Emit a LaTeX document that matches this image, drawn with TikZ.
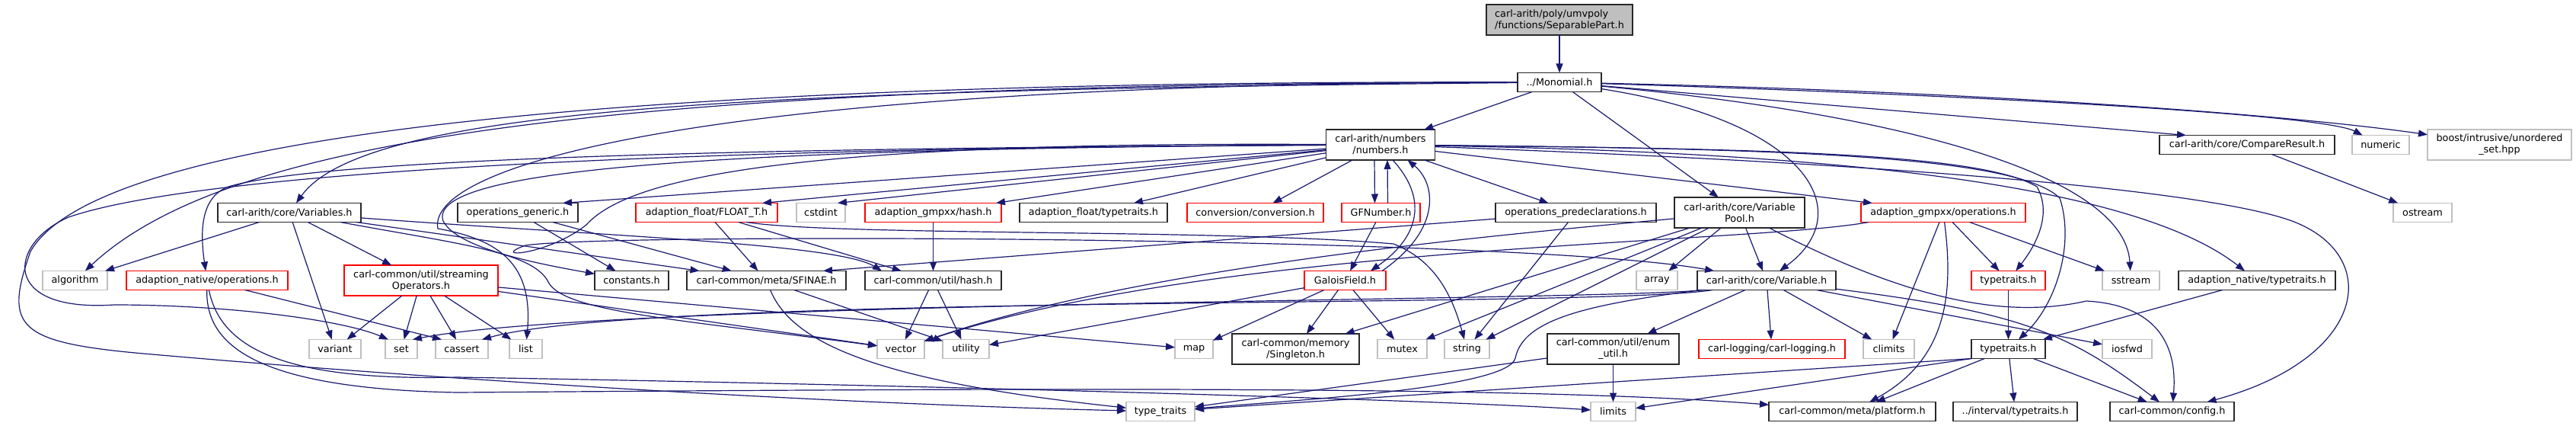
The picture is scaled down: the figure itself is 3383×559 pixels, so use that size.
\documentclass[tikz,border=0pt]{standalone}
\usepackage{fontspec}
\setmainfont{DejaVu Sans}
\usepackage{tikz}
\usepackage{xcolor}
\usetikzlibrary{arrows.meta,positioning}
\definecolor{edgeblue}{RGB}{25,25,112}
\definecolor{softgray}{RGB}{191,191,191}
\definecolor{hardred}{RGB}{255,0,0}
\definecolor{darkline}{RGB}{40,40,40}

\begin{document}
\begin{tikzpicture}[x=1pt, y=-1pt, >={Triangle[length=12pt, width=9pt]},
  box/.style={font=\fontsize{12.8}{15}\selectfont, inner xsep=2pt, inner ysep=0pt, outer sep=0pt,
    line width=1.5pt, minimum height=25pt, fill=white, align=center},
  hdr/.style={box, draw=darkline},
  trunc/.style={box, draw=hardred},
  sys/.style={box, draw=softgray},
  tall/.style={minimum height=40pt},
  incl/.style={->, draw=edgeblue, line width=1.2pt}]
  \fill[white] (0,0) rectangle (3383,559);
  \useasboundingbox (0,0) rectangle (3383,559);

  \node[hdr, fill=softgray, tall, align=left, minimum width=192pt] (sep) at (2048,26) {carl-arith/poly/umvpoly\\/functions/SeparablePart.h};
  \node[hdr, minimum width=110pt] (mono) at (2048,108) {../Monomial.h};

  \node[hdr, tall, minimum width=143pt] (numbers) at (1813,190) {carl-arith/numbers\\/numbers.h};
  \node[hdr, minimum width=230pt] (compare) at (2951,190) {carl-arith/core/CompareResult.h};
  \node[sys, minimum width=75pt, right=23pt of compare] (numeric) {numeric};
  \node[sys, tall, minimum width=189pt, right=24pt of numeric] (boost) {boost/intrusive/unordered\\\_set.hpp};

  \node[hdr, minimum width=188pt] (variables) at (380,279) {carl-arith/core/Variables.h};
  \node[hdr, minimum width=158pt, right=127pt of variables] (opgeneric) {operations\_generic.h};
  \node[trunc, minimum width=186pt, right=76pt of opgeneric] (floatt) {adaption\_float/FLOAT\_T.h};
  \node[sys, minimum width=64pt, right=25pt of floatt] (cstdint) {cstdint};
  \node[trunc, minimum width=179pt, right=26pt of cstdint] (gmpxxhash) {adaption\_gmpxx/hash.h};
  \node[hdr, minimum width=194pt, right=24pt of gmpxxhash] (floattraits) {adaption\_float/typetraits.h};
  \node[trunc, minimum width=179pt, right=26pt of floattraits] (conversion) {conversion/conversion.h};
  \node[trunc, minimum width=103pt, right=24pt of conversion] (gfnumber) {GFNumber.h};
  \node[hdr, minimum width=211pt, right=99pt of gfnumber] (oppredecl) {operations\_predeclarations.h};
  \node[hdr, tall, minimum width=171pt, right=24pt of oppredecl] (varpool) {carl-arith/core/Variable\\Pool.h};
  \node[trunc, minimum width=216pt, right=74pt of varpool] (gmpxxops) {adaption\_gmpxx/operations.h};
  \node[sys, minimum width=77pt, right=483pt of gmpxxops] (ostream) {ostream};

  \node[sys, minimum width=85pt] (algorithm) at (98.5,368) {algorithm};
  \node[trunc, minimum width=212pt, right=25pt of algorithm] (nativeops) {adaption\_native/operations.h};
  \node[trunc, tall, minimum width=202pt, right=74pt of nativeops] (streaming) {carl-common/util/streaming\\Operators.h};
  \node[hdr, minimum width=97pt, right=127pt of streaming] (constants) {constants.h};
  \node[hdr, minimum width=209pt, right=24pt of constants] (sfinae) {carl-common/meta/SFINAE.h};
  \node[hdr, minimum width=179pt, right=25pt of sfinae] (utilhash) {carl-common/util/hash.h};
  \node[trunc, minimum width=107pt, right=398pt of utilhash] (galois) {GaloisField.h};
  \node[sys, minimum width=54pt, right=329pt of galois] (array) {array};
  \node[hdr, minimum width=182pt, right=26pt of array] (variable) {carl-arith/core/Variable.h};
  \node[trunc, minimum width=97pt, right=178pt of variable] (typetraitsred) {typetraits.h};
  \node[sys, minimum width=75pt, right=75pt of typetraitsred] (sstream) {sstream};
  \node[hdr, minimum width=206pt, right=25pt of sstream] (nativetraits) {adaption\_native/typetraits.h};

  \node[sys, minimum width=68pt] (variant) at (440,458) {variant};
  \node[sys, minimum width=42pt, right=32pt of variant] (set) {set};
  \node[sys, minimum width=69pt, right=24pt of set] (cassert) {cassert};
  \node[sys, minimum width=43pt, right=28pt of cassert] (list) {list};
  \node[sys, minimum width=62pt, right=440pt of list] (vector) {vector};
  \node[sys, minimum width=61pt, right=24pt of vector] (utility) {utility};
  \node[sys, minimum width=50pt, right=244pt of utility] (map) {map};
  \node[hdr, tall, minimum width=167pt, right=25pt of map] (singleton) {carl-common/memory\\/Singleton.h};
  \node[sys, minimum width=65pt, right=24pt of singleton] (mutex) {mutex};
  \node[sys, minimum width=59pt, right=23pt of mutex] (string) {string};
  \node[hdr, tall, minimum width=173pt, right=76pt of string] (enumutil) {carl-common/util/enum\\\_util.h};
  \node[trunc, minimum width=192pt, right=26pt of enumutil] (logging) {carl-logging/carl-logging.h};
  \node[sys, minimum width=67pt, right=24pt of logging] (climits) {climits};
  \node[hdr, minimum width=97pt, right=75pt of climits] (typetraitsblk) {typetraits.h};
  \node[sys, minimum width=65pt, right=75pt of typetraitsblk] (iosfwd) {iosfwd};

  \node[sys, minimum width=90pt] (stdtraits) at (1524,540) {type\_traits};
  \node[sys, minimum width=59pt] (limits) at (2118.5,540) {limits};
  \node[hdr, minimum width=219pt] (platform) at (2432.5,540) {carl-common/meta/platform.h};
  \node[hdr, minimum width=163pt, right=23pt of platform] (intervaltraits) {../interval/typetraits.h};
  \node[hdr, minimum width=163pt, right=43pt of intervaltraits] (config) {carl-common/config.h};

  \draw[incl] (sep) -- (mono);
  \draw[incl] (mono) -- (numbers);
  \draw[incl] (mono) -- (varpool);
  \draw[incl] (mono) -- ([xshift=35pt]compare.north west);
  \draw[incl] (mono) .. controls (2380,160) and (2440,280) .. (variable);
  \draw[incl] (mono) .. controls (2600,125) and (3050,150) .. (numeric);
  \draw[incl] (mono) .. controls (2600,120) and (3000,150) .. (boost);
  \draw[incl] (mono) .. controls (2500,150) and (2790,230) .. (sstream);
  \draw[incl] (mono) .. controls (1000,118) and (480,140) .. (variables);
  \draw[incl] (mono) .. controls (800,110) and (300,180) .. (algorithm);
  \draw[incl] (mono) .. controls (900,110) and (560,220) .. (575,300)
    .. controls (660,315) and (700,350) .. (list);
  \draw[incl] (mono) .. controls (700,105) and (120,190) .. (40,330)
    .. controls (5,430) and (20,450) .. (200,465)
    .. controls (600,500) and (1100,530) .. (stdtraits);

  \draw[incl] ([xshift=-8pt]numbers.south) -- ([xshift=-8pt]gfnumber.north);
  \draw[incl] (numbers) -- (conversion);
  \draw[incl] (numbers) -- (oppredecl);
  \draw[incl] (numbers) -- (floattraits);
  \draw[incl] (numbers) -- (gmpxxhash);
  \draw[incl] (numbers) -- ([xshift=-10pt]cstdint.north east);
  \draw[incl] (numbers) -- ([xshift=-20pt]floatt.north east);
  \draw[incl] (numbers) -- ([xshift=-20pt]opgeneric.north east);
  \draw[incl] (numbers) -- ([xshift=15pt]gmpxxops.north west);
  \draw[incl] ([xshift=16pt]numbers.south) .. controls (1875,260) and (1865,310) .. ([xshift=-20pt]galois.north east);
  \draw[incl] (numbers) .. controls (800,195) and (400,215) .. (300,245)
    .. controls (265,258) and (262,300) .. (nativeops);
  \draw[incl] (numbers) .. controls (800,195) and (250,230) .. (90,285)
    .. controls (10,320) and (0,410) .. (150,400)
    .. controls (300,400) and (450,420) .. ([xshift=4pt]set.north west);
  \draw[incl] (numbers) .. controls (900,195) and (560,225) .. (582,290)
    .. controls (600,325) and (700,345) .. (constants);
  \draw[incl] (numbers) .. controls (1000,185) and (820,240) .. (770,295)
    .. controls (720,335) and (640,340) .. (690,322)
    .. controls (800,305) and (2000,310) .. (variable);
  \draw[incl] (numbers) .. controls (2300,195) and (2600,200) .. (2675,245)
    .. controls (2695,280) and (2675,320) .. (typetraitsred);
  \draw[incl] (numbers) .. controls (2350,195) and (2650,205) .. (2705,260)
    .. controls (2725,320) and (2700,400) .. (typetraitsblk);
  \draw[incl] (numbers) .. controls (2400,200) and (2800,240) .. (nativetraits);
  \draw[incl] (numbers) .. controls (2500,215) and (2900,250) .. (3010,290)
    .. controls (3130,335) and (3110,470) .. (config);

  \draw[incl] ([xshift=9pt]gfnumber.north) -- ([xshift=9pt]numbers.south);
  \draw[incl] (gfnumber) -- (galois);
  \draw[incl] ([xshift=-5pt]galois.north east) .. controls (1895,300) and (1885,240) .. ([xshift=-36pt]numbers.south east);
  \draw[incl] (galois) -- (map);
  \draw[incl] (galois) -- (singleton);
  \draw[incl] (galois) -- (mutex);
  \draw[incl] (galois) -- (utility);

  \draw[incl] (variables) -- (algorithm);
  \draw[incl] (variables) -- (variant);
  \draw[incl] (variables) -- (streaming);
  \draw[incl] (variables) -- (sfinae);
  \draw[incl] (variables) .. controls (800,310) and (1100,320) .. ([xshift=22pt]utilhash.north west);
  \draw[incl] (variables) .. controls (600,320) and (700,330) .. (720,370)
    .. controls (740,410) and (900,420) .. (vector);

  \draw[incl] (opgeneric) -- (constants);
  \draw[incl] (opgeneric) -- (sfinae);
  \draw[incl] (floatt) -- (sfinae);
  \draw[incl] (floatt) -- (utilhash);
  \draw[incl] ([xshift=52pt]floatt.south) .. controls (1100,310) and (1600,300) .. (1830,320)
    .. controls (1880,340) and (1905,380) .. (string);
  \draw[incl] (gmpxxhash) -- (utilhash);
  \draw[incl] (oppredecl) -- (string);
  \draw[incl] (oppredecl) -- ([xshift=-30pt]sfinae.north east);

  \draw[incl] (varpool) -- (variable);
  \draw[incl] (varpool) -- (array);
  \draw[incl] (varpool) -- (mutex);
  \draw[incl] (varpool) -- (string);
  \draw[incl] (varpool) -- (singleton);
  \draw[incl] (varpool) .. controls (1950,310) and (1500,350) .. (vector);
  \draw[incl] (varpool) .. controls (2500,390) and (2630,420) .. (2740,395)
    .. controls (2830,400) and (2860,450) .. (config);

  \draw[incl] (variable) -- (enumutil);
  \draw[incl] (variable) -- (logging);
  \draw[incl] (variable) -- (climits);
  \draw[incl] (variable) -- (iosfwd);
  \draw[incl] (variable) .. controls (2660,410) and (2720,440) .. (config);
  \draw[incl] ([xshift=10pt]variable.south west) .. controls (2100,395) and (800,395) .. ([xshift=-6pt]set.north east);
  \draw[incl] ([xshift=20pt]variable.south west) .. controls (2100,405) and (850,385) .. ([xshift=-8pt]cassert.north east);
  \draw[incl] ([xshift=5pt]variable.south west) .. controls (2080,400) and (2000,420) .. (1990,470)
    .. controls (1980,510) and (1700,525) .. (stdtraits);

  \draw[incl] (streaming) -- (variant);
  \draw[incl] (streaming) -- (set);
  \draw[incl] (streaming) -- (cassert);
  \draw[incl] (streaming) -- (list);
  \draw[incl] (streaming) -- (vector);
  \draw[incl] (streaming) -- (map);

  \draw[incl] (nativeops) -- ([xshift=8pt]cassert.north west);
  \draw[incl] (nativeops) .. controls (290,460) and (380,500) .. (600,495)
    .. controls (1200,505) and (1900,525) .. (limits);
  \draw[incl] (nativeops) .. controls (270,450) and (330,510) .. (600,515)
    .. controls (1300,510) and (2000,505) .. (platform);

  \draw[incl] (sfinae) -- (utility);
  \draw[incl] (sfinae) .. controls (1040,450) and (1150,500) .. (stdtraits);
  \draw[incl] (utilhash) -- (vector);
  \draw[incl] (utilhash) -- (utility);

  \draw[incl] (enumutil) -- (limits);
  \draw[incl] (enumutil) -- (stdtraits);
  \draw[incl] (compare) -- (ostream);

  \draw[incl] (gmpxxops) -- (typetraitsred);
  \draw[incl] (gmpxxops) -- (sstream);
  \draw[incl] (gmpxxops) -- (climits);
  \draw[incl] (gmpxxops) .. controls (2565,380) and (2560,470) .. (platform);
  \draw[incl] ([xshift=10pt]gmpxxops.south west) .. controls (2300,320) and (1600,320) .. (vector);

  \draw[incl] (typetraitsred) -- (typetraitsblk);
  \draw[incl] (nativetraits) -- (typetraitsblk);
  \draw[incl] (typetraitsblk.south west) -- (stdtraits);
  \draw[incl] (typetraitsblk.south west) -- (limits);
  \draw[incl] (typetraitsblk) -- (platform);
  \draw[incl] (typetraitsblk) -- (intervaltraits);
  \draw[incl] (typetraitsblk) -- (config);
\end{tikzpicture}
\end{document}
